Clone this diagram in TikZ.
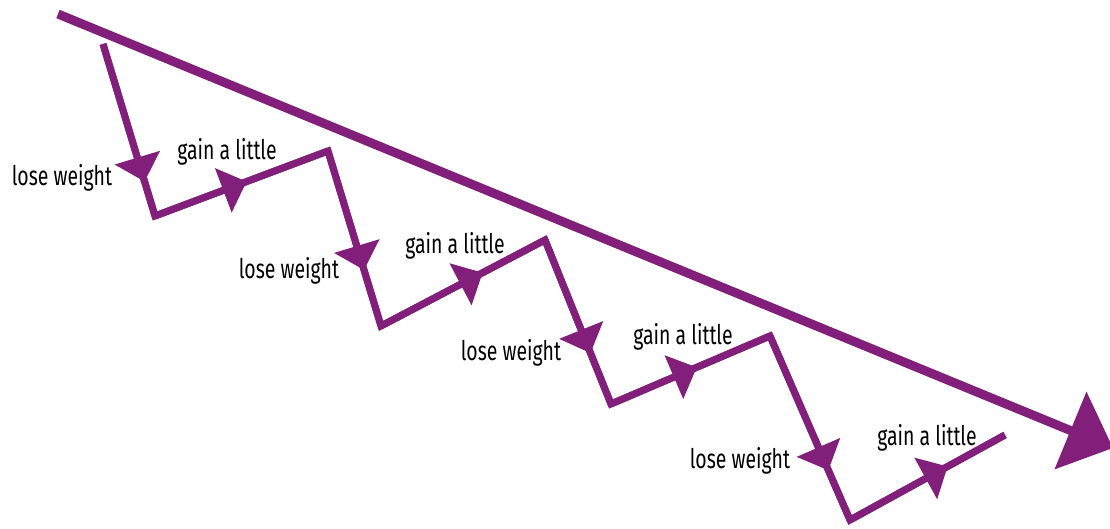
\documentclass[tikz,border=0pt]{standalone}
\usepackage{fontspec}
\setmainfont[FakeStretch=0.72]{Fira Sans}
\usetikzlibrary{arrows.meta,decorations.markings}
\definecolor{purp}{RGB}{130,31,122}
\tikzset{
  zig/.style={draw=purp, line width=7pt, line join=miter},
  trend/.style={draw=purp, line width=9pt, -{Triangle[length=46pt,width=82pt]}},
  midarr/.style={postaction={decorate}, decoration={markings, mark=at position #1 with {\arrow{Triangle[length=25pt,width=46pt]}}}},
  lbl/.style={font=\fontsize{27}{30}\selectfont, text=black, inner sep=0pt}
}
\begin{document}
\begin{tikzpicture}[x=1pt,y=-1pt]
\useasboundingbox (0,0) rectangle (1110,529);
\coordinate (t0) at (58,14);
\coordinate (t1) at (1113,448);
\coordinate (p0) at (103,44);
\coordinate (p1) at (155,216);
\coordinate (p2) at (328,151);
\coordinate (p3) at (381,326);
\coordinate (p4) at (545,240);
\coordinate (p5) at (611,404);
\coordinate (p6) at (770,336);
\coordinate (p7) at (850,520);
\coordinate (p8) at (1005,435);
\draw[trend] (t0) -- (t1);
\draw[zig] (p0) -- (p1) -- (p2) -- (p3) -- (p4) -- (p5) -- (p6) -- (p7) -- (p8);
\draw[zig, midarr=0.80] (p0) -- (p1);
\draw[zig, midarr=0.53] (p1) -- (p2);
\draw[zig, midarr=0.68] (p2) -- (p3);
\draw[zig, midarr=0.62] (p3) -- (p4);
\draw[zig, midarr=0.69] (p4) -- (p5);
\draw[zig, midarr=0.54] (p5) -- (p6);
\draw[zig, midarr=0.73] (p6) -- (p7);
\draw[zig, midarr=0.63] (p7) -- (p8);
\node[lbl] (l1) at (62,178) {lose weight};
\node[lbl] (g1) at (227,152) {gain a little};
\node[lbl] (l2) at (289,271) {lose weight};
\node[lbl] (g2) at (455,246) {gain a little};
\node[lbl] (l3) at (511,353) {lose weight};
\node[lbl] (g3) at (683,337) {gain a little};
\node[lbl] (l4) at (740,461) {lose weight};
\node[lbl] (g4) at (927,438) {gain a little};
\end{tikzpicture}
\end{document}
